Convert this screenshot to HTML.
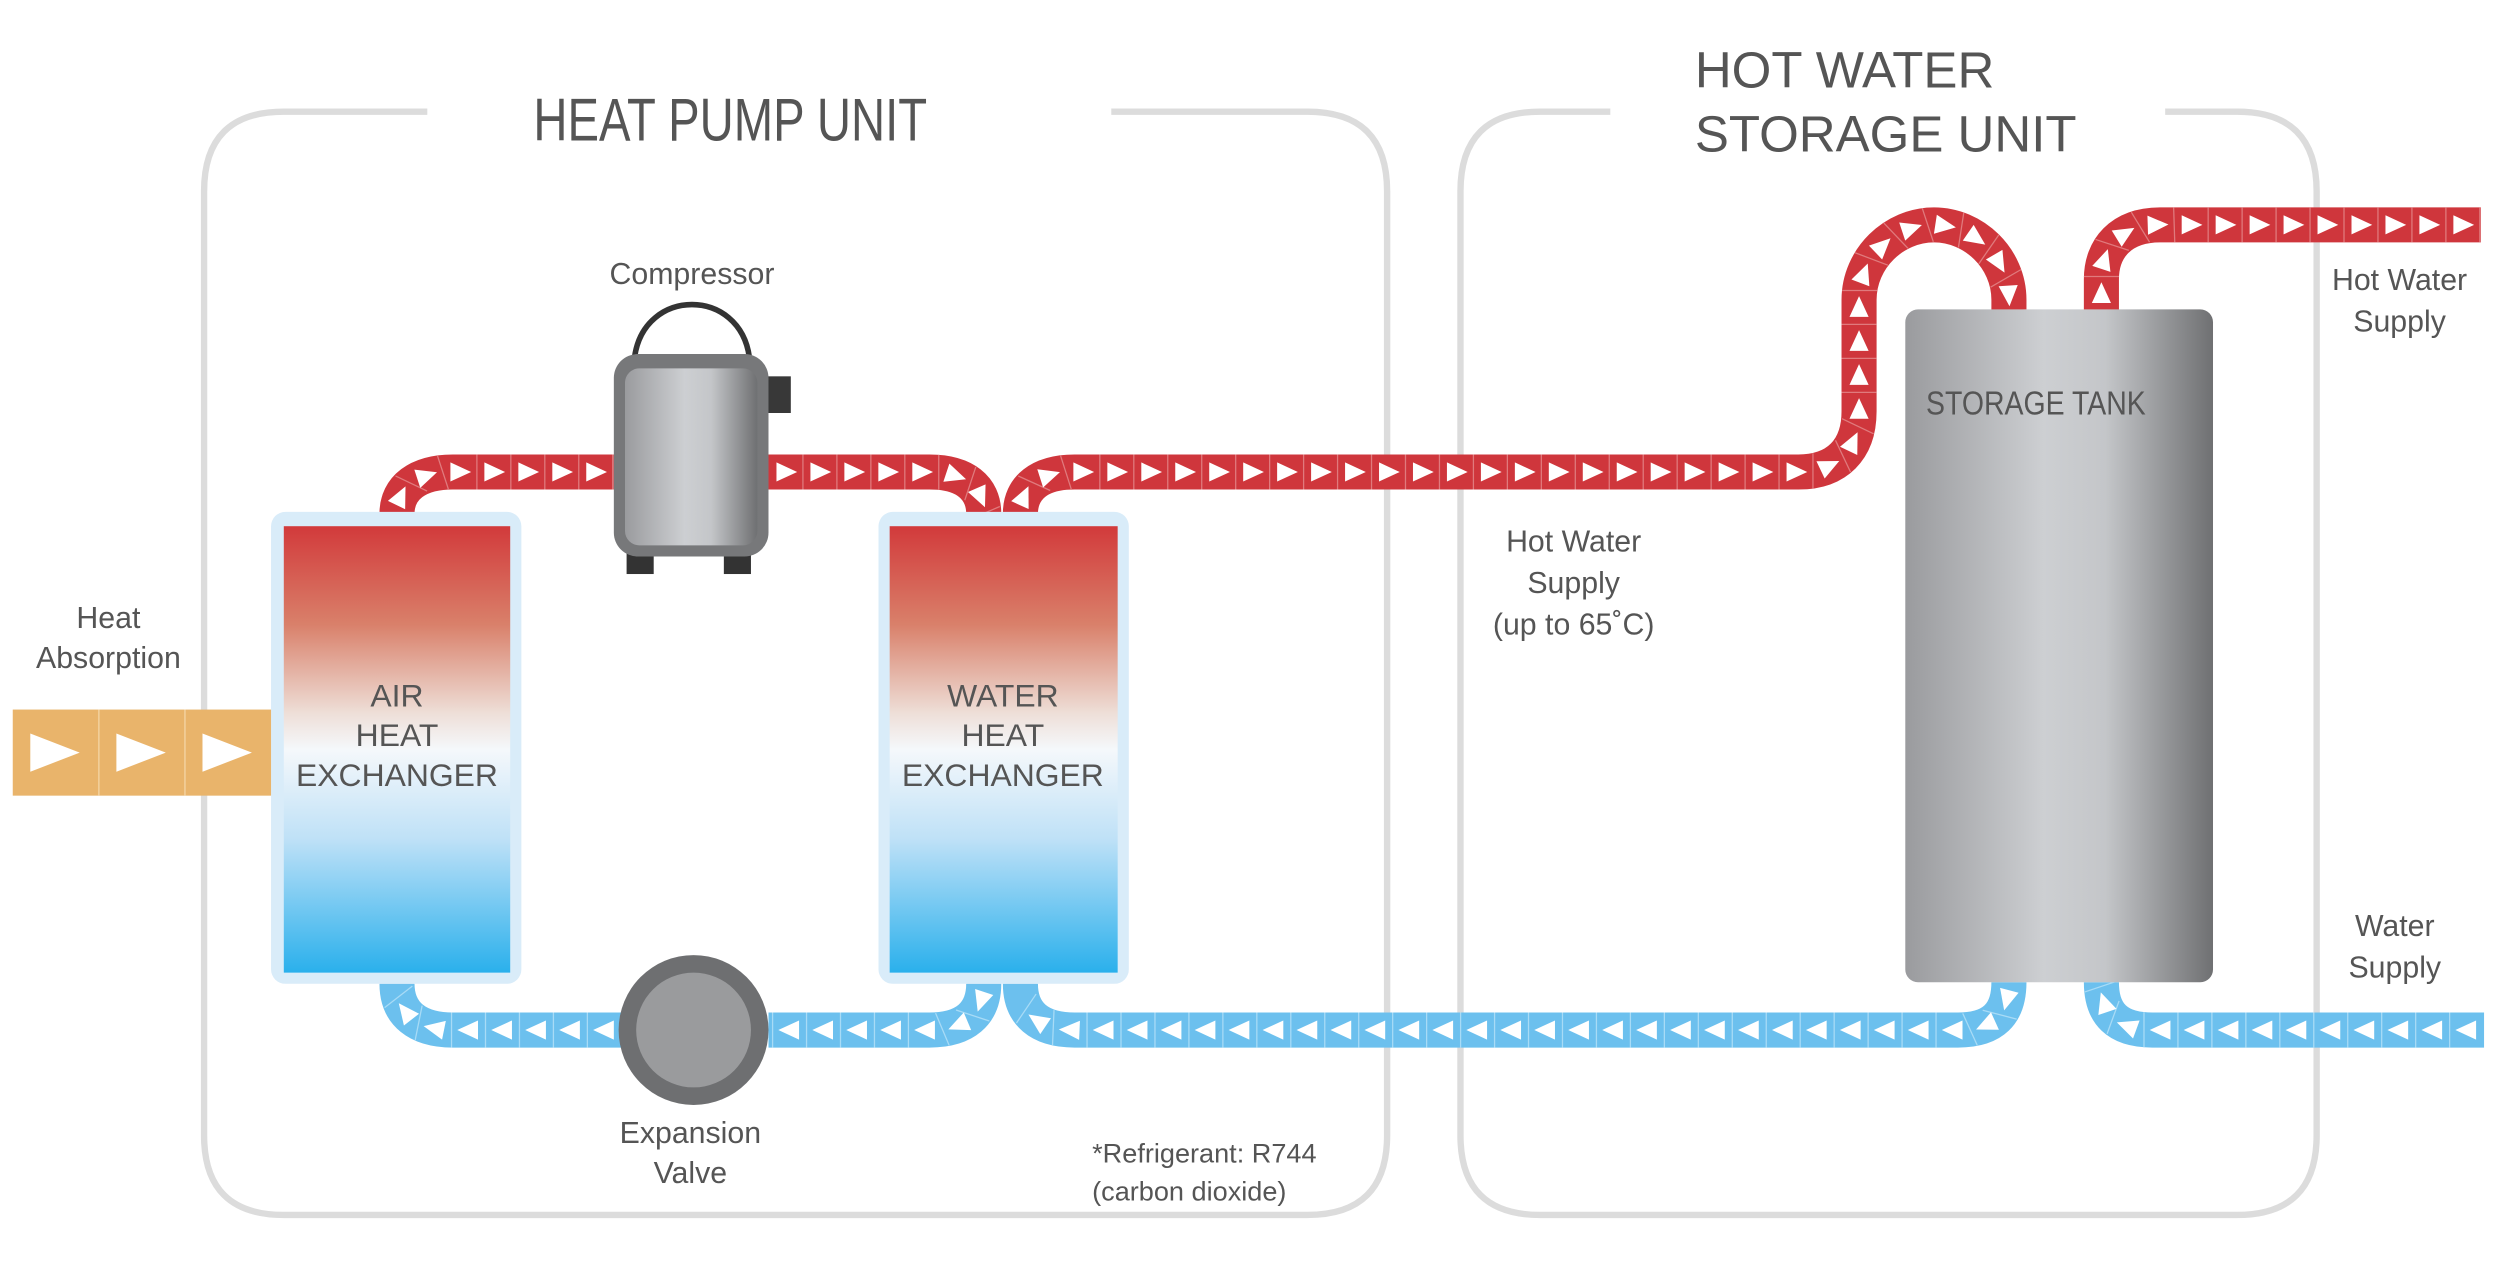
<!DOCTYPE html>
<html><head><meta charset="utf-8"><style>
html,body{margin:0;padding:0;background:#fff;}
svg{display:block}
text{font-family:"Liberation Sans",sans-serif;fill:#555;}
</style></head><body>
<svg id="s" width="2500" height="1282" viewBox="0 0 1568 804" xmlns="http://www.w3.org/2000/svg">
<defs>
<linearGradient id="hx" x1="0" y1="0" x2="0" y2="1">
<stop offset="0" stop-color="#d23a3b"/><stop offset="0.22" stop-color="#d9806a"/><stop offset="0.42" stop-color="#eedfd8"/><stop offset="0.5" stop-color="#f5f8fb"/><stop offset="0.7" stop-color="#bfe1f7"/><stop offset="1" stop-color="#2ab0ec"/>
</linearGradient>
<linearGradient id="met" x1="0" y1="0" x2="1" y2="0">
<stop offset="0" stop-color="#9a9b9e"/><stop offset="0.45" stop-color="#cdcfd2"/><stop offset="0.65" stop-color="#c4c6c9"/><stop offset="1" stop-color="#6f7072"/>
</linearGradient>
</defs>
<path d="M268,70 H178 Q128,70 128,120 V712 Q128,762 178,762 H820 Q870,762 870,712 V120 Q870,70 820,70 H697" fill="none" stroke="#dcdcdc" stroke-width="4"/>
<path d="M1010,70 H966 Q916,70 916,120 V712 Q916,762 966,762 H1403 Q1453,762 1453,712 V120 Q1453,70 1403,70 H1358" fill="none" stroke="#dcdcdc" stroke-width="4"/>
<text transform="translate(458,88) scale(0.78,1)" font-size="38" text-anchor="middle">HEAT PUMP UNIT</text>
<text x="1063" y="55" font-size="32">HOT WATER</text>
<text x="1063" y="95" font-size="32">STORAGE UNIT</text>
<g id="pipes"></g>
<rect x="170" y="321" width="157" height="296" rx="9" fill="#d9ecf9"/>
<rect x="178" y="330" width="142" height="280" fill="url(#hx)"/>
<rect x="551" y="321" width="157" height="296" rx="9" fill="#d9ecf9"/>
<rect x="558" y="330" width="143" height="280" fill="url(#hx)"/>
<g font-size="20" text-anchor="middle">
<text x="249" y="443">AIR</text><text x="249" y="468">HEAT</text><text x="249" y="493">EXCHANGER</text>
<text x="629" y="443">WATER</text><text x="629" y="468">HEAT</text><text x="629" y="493">EXCHANGER</text>
</g>
<path d="M398,224 C404,180 464,180 470,224" fill="none" stroke="#333" stroke-width="3.5"/>
<rect x="481" y="236" width="15" height="23" fill="#383838"/>
<rect x="393" y="346" width="17" height="14" fill="#333"/>
<rect x="454" y="346" width="17" height="14" fill="#333"/>
<rect x="385" y="222" width="97" height="127" rx="15" fill="#77787a"/>
<rect x="392" y="231" width="83" height="111" rx="9" fill="url(#met)"/>
<text x="434" y="178" font-size="19" text-anchor="middle">Compressor</text>
<rect x="1195" y="194" width="193" height="422" rx="8" fill="url(#met)"/>
<text transform="translate(1208,260) scale(0.85,1)" font-size="21">STORAGE TANK</text>
<rect x="8" y="445" width="162" height="54" fill="#e9b46b"/>
<path d="M62,445V499M116,445V499" stroke="#f2cf9b" stroke-width="1"/>
<path d="M19,460 L50,472 L19,484Z M73,460 L104,472 L73,484Z M127,460 L158,472 L127,484Z" fill="#fff"/>
<g font-size="19" text-anchor="middle">
<text x="68" y="394">Heat</text><text x="68" y="419">Absorption</text>
<text x="433" y="717">Expansion</text><text x="433" y="742">Valve</text>
<text x="987" y="346">Hot Water</text><text x="987" y="372">Supply</text><text x="987" y="398">(up to 65˚C)</text>
<text x="1505" y="182">Hot Water</text><text x="1505" y="208">Supply</text>
<text x="1502" y="587">Water</text><text x="1502" y="613">Supply</text>
</g>
<text x="685" y="729" font-size="17">*Refrigerant: R744</text>
<text x="685" y="753" font-size="17">(carbon dioxide)</text>
<g id="valve"><circle cx="435" cy="646" r="47" fill="#6e6f71"/><circle cx="435" cy="646" r="36" fill="#9a9b9d"/></g>
</svg>
<script>
var NS="http://www.w3.org/2000/svg",g=document.getElementById("pipes");
function pipe(d,col,line){
 var p=document.createElementNS(NS,"path");p.setAttribute("d",d);p.setAttribute("fill","none");
 p.setAttribute("stroke",col);p.setAttribute("stroke-width","22");g.appendChild(p);
 var L=p.getTotalLength();
 for(var s=11;s<L-6;s+=21.3){
  var a=p.getPointAtLength(s),b=p.getPointAtLength(Math.min(L,s+1)),c=p.getPointAtLength(Math.max(0,s-1));
  var ang=Math.atan2(b.y-c.y,b.x-c.x)*180/Math.PI;
  var t=document.createElementNS(NS,"path");
  t.setAttribute("d","M-6,-6 L7,0 L-6,6Z");t.setAttribute("fill","#fff");
  t.setAttribute("transform","translate("+a.x+","+a.y+") rotate("+ang+")");g.appendChild(t);
  var q=p.getPointAtLength(Math.min(L,s+10.6));
  var l=document.createElementNS(NS,"path");
  l.setAttribute("d","M0,-11 V11");l.setAttribute("stroke",line);l.setAttribute("stroke-width","0.8");
  l.setAttribute("transform","translate("+q.x+","+q.y+") rotate("+ang+")");g.appendChild(l);
 }
}
var R="#cf363c",Rl="#e07a7d",B="#6cc0ee",Bl="#a8dbf6";
pipe("M249,322 C249,306 262,296 284,296 H385",R,Rl);
pipe("M482,296 H583 C605,296 617,306 617,322",R,Rl);
pipe("M640,322 C640,306 652,296 674,296 H1128 C1152,296 1166,282 1166,258 V188 C1166,162 1188,141 1213,141 C1238,141 1260,162 1260,188 V195",R,Rl);
pipe("M1318,195 V175 C1318,156 1330,141 1355,141 H1556",R,Rl);
pipe("M1558,646 H1350 C1328,646 1318,636 1318,616",B,Bl);
pipe("M1260,616 C1260,636 1250,646 1228,646 H674 C652,646 640,636 640,617",B,Bl);
pipe("M617,617 C617,636 605,646 583,646 H482",B,Bl);
pipe("M390,646 H284 C262,646 249,636 249,617",B,Bl);
</script>
</body></html>
